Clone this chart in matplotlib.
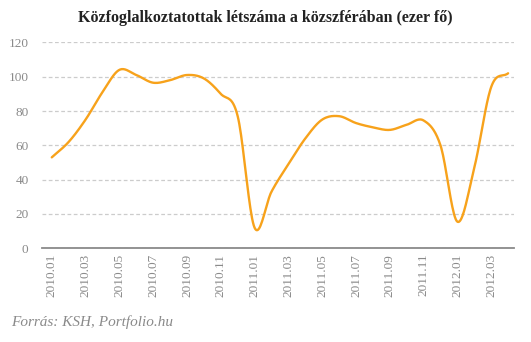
import numpy as np
import matplotlib.pyplot as plt

# monthly values, 2010.01 - 2012.04 (thousand persons)
months = ['2010.01', '2010.02', '2010.03', '2010.04', '2010.05', '2010.06',
          '2010.07', '2010.08', '2010.09', '2010.10', '2010.11', '2010.12',
          '2011.01', '2011.02', '2011.03', '2011.04', '2011.05', '2011.06',
          '2011.07', '2011.08', '2011.09', '2011.10', '2011.11', '2011.12',
          '2012.01', '2012.02', '2012.03', '2012.04']
values = [53, 62, 75, 91, 104, 101, 96.5, 98, 101, 99, 90, 77,
          12, 33, 49, 64, 75, 77, 73, 70.5, 69, 72, 74.5, 60,
          15.5, 47, 94, 102]

title = 'Közfoglalkoztatottak létszáma a közszférában (ezer fő)'
source = 'Forrás: KSH, Portfolio.hu'
line_color = '#F7A21B'
grey = '#8a8a8a'


def catmull_rom(x, y, n=20):
    # smooth curve through the points (uniform Catmull-Rom)
    x = np.asarray(x, float)
    y = np.asarray(y, float)
    px = np.concatenate([[2 * x[0] - x[1]], x, [2 * x[-1] - x[-2]]])
    py = np.concatenate([[2 * y[0] - y[1]], y, [2 * y[-1] - y[-2]]])
    xs, ys = [], []
    t = np.linspace(0, 1, n, endpoint=False)
    for i in range(1, len(px) - 2):
        for p, out in ((px, xs), (py, ys)):
            p0, p1, p2, p3 = p[i - 1], p[i], p[i + 1], p[i + 2]
            out.extend(0.5 * ((2 * p1) + (-p0 + p2) * t
                              + (2 * p0 - 5 * p1 + 4 * p2 - p3) * t ** 2
                              + (-p0 + 3 * p1 - 3 * p2 + p3) * t ** 3))
    xs.append(x[-1])
    ys.append(y[-1])
    return np.array(xs), np.array(ys)


plt.rcParams['font.family'] = ['Liberation Serif', 'DejaVu Serif']

fig = plt.figure(figsize=(5.31, 3.42), dpi=100)
ax = fig.add_axes([0.080, 0.274, 0.888, 0.602])

xi = np.arange(len(values))
sx, sy = catmull_rom(xi, values)
ax.plot(sx, sy, color=line_color, lw=1.7, solid_capstyle='round')

ax.set_ylim(0, 120)
ax.set_xlim(-0.55, 27.35)
ax.set_yticks(range(0, 121, 20))
ax.set_xticks(xi[::2])
ax.set_xticklabels(months[::2], rotation=90)
ax.tick_params(axis='both', length=0, colors=grey, labelsize=9.5)
ax.tick_params(axis='y', pad=10)
ax.tick_params(axis='x', pad=4)

ax.grid(axis='y', color='#cccccc', linestyle=(0, (3, 2)), lw=0.9)
ax.set_axisbelow(True)
for s in ['top', 'right', 'left']:
    ax.spines[s].set_visible(False)
ax.spines['bottom'].set_color(grey)
ax.spines['bottom'].set_linewidth(1.3)

fig.text(0.5, 0.948, title, ha='center', va='center', fontsize=11.5,
         fontweight='bold', color='#222222')
fig.text(0.02, 0.058, source, ha='left', va='center', fontsize=11,
         style='italic', color=grey)

fig.savefig('out.png', dpi=100)
